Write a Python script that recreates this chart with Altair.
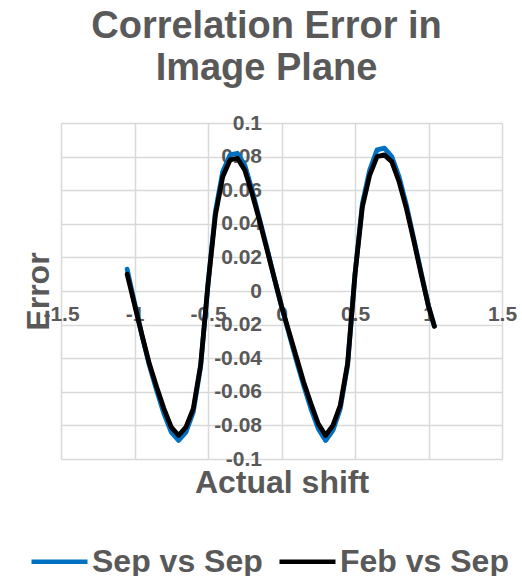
import altair as alt
import pandas as pd

# Actual shift (x) and correlation error for the two image pairs
shift = [-1.05, -1.00, -0.95, -0.90, -0.85, -0.80, -0.75, -0.70, -0.65, -0.60,
         -0.55, -0.50, -0.45, -0.40, -0.35, -0.30, -0.25, -0.20, -0.15, -0.10,
         -0.05, 0.00, 0.05, 0.10, 0.15, 0.20, 0.25, 0.30, 0.35, 0.40,
         0.45, 0.50, 0.55, 0.60, 0.65, 0.70, 0.75, 0.80, 0.85, 0.90,
         0.95, 1.00, 1.04]

sep_vs_sep = [0.013, -0.007, -0.026, -0.044, -0.059, -0.073, -0.084, -0.089, -0.084, -0.072,
              -0.045, 0.004, 0.047, 0.071, 0.081, 0.082, 0.075, 0.060, 0.043, 0.026,
              0.008, -0.009, -0.025, -0.041, -0.056, -0.070, -0.082, -0.089, -0.083, -0.070,
              -0.044, 0.010, 0.052, 0.072, 0.084, 0.085, 0.080, 0.068, 0.051, 0.031,
              0.011, -0.009, -0.021]

feb_vs_sep = [0.010, -0.008, -0.026, -0.043, -0.057, -0.070, -0.081, -0.086, -0.081, -0.070,
              -0.044, 0.004, 0.045, 0.068, 0.078, 0.079, 0.072, 0.058, 0.042, 0.025,
              0.008, -0.009, -0.024, -0.039, -0.054, -0.067, -0.079, -0.086, -0.080, -0.068,
              -0.043, 0.010, 0.050, 0.069, 0.080, 0.081, 0.077, 0.065, 0.049, 0.030,
              0.010, -0.009, -0.021]

series_names = ["Sep vs Sep", "Feb vs Sep"]
series_colors = ["#0070C0", "#000000"]

x_ticks = [-1.5, -1.0, -0.5, 0.0, 0.5, 1.0, 1.5]
y_ticks = [-0.1, -0.08, -0.06, -0.04, -0.02, 0.0, 0.02, 0.04, 0.06, 0.08, 0.1]

df = pd.DataFrame({
    "shift": shift + shift,
    "error": sep_vs_sep + feb_vs_sep,
    "series": [series_names[0]] * len(shift) + [series_names[1]] * len(shift),
})

GRAY = "#595959"
FONT = "Liberation Sans"
W, H = 441, 336

x_enc = alt.X(
    "shift:Q",
    scale=alt.Scale(domain=[-1.5, 1.5], nice=False, zero=False),
    axis=alt.Axis(
        values=x_ticks, offset=-H / 2, grid=True, domain=False, ticks=False, tickSize=0,
        labelExpr="toString(datum.value)", labelPadding=12, labelFlush=False,
        labelOverlap=False, labelFontSize=21, labelFont=FONT, labelFontWeight="bold",
        labelColor=GRAY, title="Actual shift", titleFontSize=32, titleFont=FONT,
        titleFontWeight="bold", titleColor=GRAY, titleX=W / 2, titleY=201,
        titleBaseline="alphabetic", titleAlign="center",
    ),
)
y_enc = alt.Y(
    "error:Q",
    scale=alt.Scale(domain=[-0.1, 0.1], nice=False, zero=False),
    axis=alt.Axis(
        values=y_ticks, offset=-W / 2, grid=True, domain=False, ticks=False, tickSize=0,
        labelExpr="toString(datum.value)", labelPadding=20, labelFlush=False,
        labelOverlap=False, labelFontSize=21, labelFont=FONT, labelFontWeight="bold",
        labelColor=GRAY, title="Error", titleFontSize=32, titleFont=FONT,
        titleFontWeight="bold", titleColor=GRAY, titleAngle=270, titleX=-233,
        titleY=H / 2, titleBaseline="alphabetic", titleAlign="center",
    ),
)
color_enc = alt.Color(
    "series:N",
    scale=alt.Scale(domain=series_names, range=series_colors),
    legend=alt.Legend(
        title=None, orient="none", direction="horizontal", legendX=-32, legendY=408,
        symbolType="stroke", symbolSize=3136, symbolStrokeWidth=4.5,
        labelFontSize=32, labelFont=FONT, labelFontWeight="bold", labelColor=GRAY,
        labelLimit=300, labelOffset=2, columnPadding=7, padding=0,
    ),
)

base = alt.Chart(df).mark_line(strokeWidth=4.8, strokeCap="round", strokeJoin="round").encode(
    x=x_enc, y=y_enc, color=color_enc
)

blue = base.transform_filter(alt.datum.series == series_names[0])
black = base.transform_filter(alt.datum.series == series_names[1])

chart = alt.layer(blue, black).properties(
    width=W,
    height=H,
    autosize="none",
    padding={"left": 61, "top": 123, "right": 20, "bottom": 117},
    background="white",
    title=alt.TitleParams(
        text=["Correlation Error in", "Image Plane"], fontSize=38, font=FONT,
        fontWeight="bold", color=GRAY, anchor="middle", frame="group",
        dx=-15, lineHeight=42, offset=24,
    ),
).configure_view(strokeWidth=0).configure_axis(gridColor="#d9d9d9", gridWidth=1.5)

chart.save("out.html", embed_options={"renderer": "svg", "actions": False})
